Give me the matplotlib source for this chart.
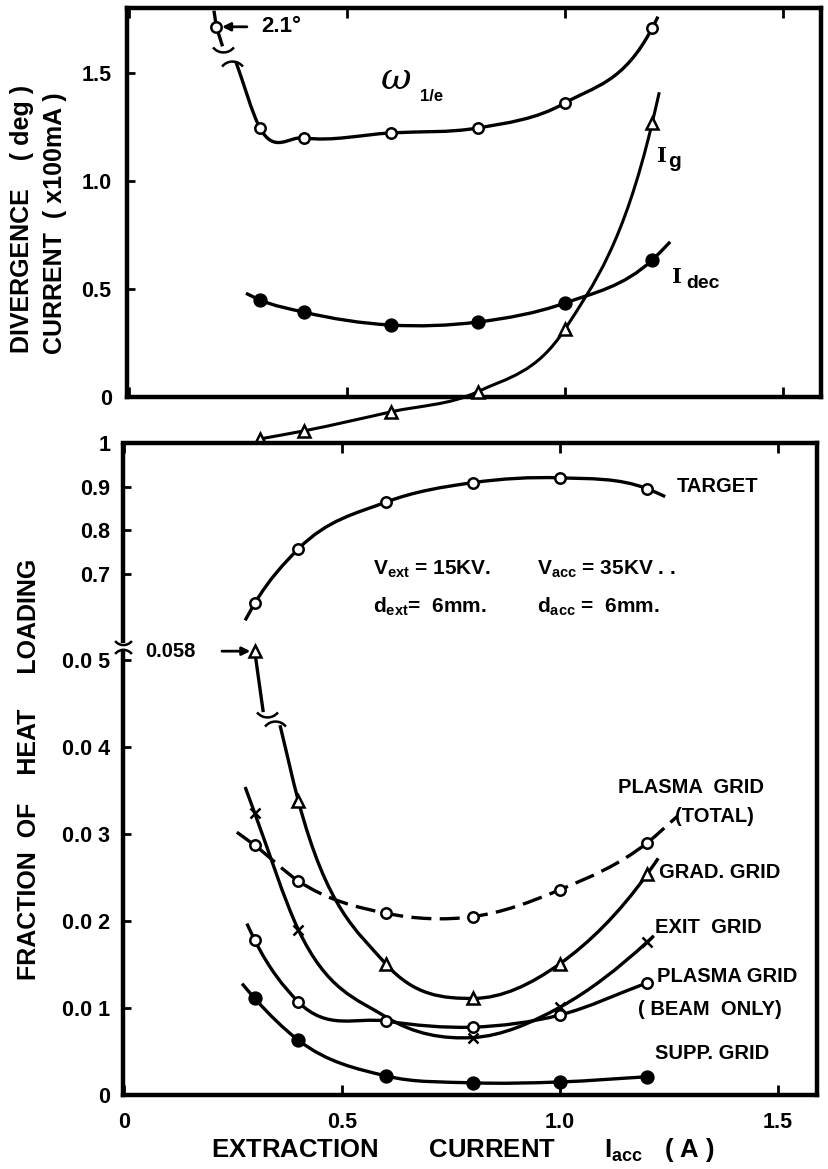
import numpy as np
import matplotlib.pyplot as plt
from matplotlib.path import Path
from matplotlib.patches import PathPatch

plt.rcParams['font.family'] = ['Liberation Sans', 'DejaVu Sans']
plt.rcParams['font.weight'] = 'bold'
plt.rcParams['mathtext.fontset'] = 'custom'
plt.rcParams['mathtext.rm'] = 'Liberation Sans:bold'
plt.rcParams['mathtext.bf'] = 'Liberation Sans:bold'
plt.rcParams['mathtext.it'] = 'Liberation Sans:bold'
plt.rcParams['mathtext.default'] = 'rm'

# ---------------- data ----------------
x_pts = [0.3, 0.4, 0.6, 0.8, 1.0, 1.2]

# top panel : divergence (deg) and currents (x100 mA)
omega_02 = 2.1            # value at Iacc = 0.2, drawn off-scale at the top
omega_02_drawn = 1.713
omega = [1.245, 1.199, 1.222, 1.245, 1.361, 1.708]
omega_start = (0.245, 1.55)
omega_end = (1.213, 1.76)
omega_lead = [(0.195, 1.78), (0.2, 1.713), (0.213, 1.63)]
omega_break = [(0.216, 1.606), (0.236, 1.546)]

i_dec = [0.449, 0.393, 0.333, 0.347, 0.435, 0.634]
i_dec_start = (0.268, 0.48)
i_dec_end = (1.241, 0.718)

i_g = [-0.194, -0.157, -0.069, 0.025, 0.315, 1.27]
i_g_end = (1.216, 1.41)

# bottom panel : fraction of heat loading
target = [0.632, 0.757, 0.864, 0.909, 0.920, 0.895]
target_start = (0.278, 0.593)
target_end = (1.241, 0.877)

pg_total = [0.0287, 0.0246, 0.0209, 0.0205, 0.0236, 0.0290]
pg_total_start = (0.259, 0.0302)
pg_total_end = (1.268, 0.0320)

grad = [0.058, 0.0338, 0.0151, 0.0111, 0.0151, 0.0254]
grad_lead_end = (0.319, 0.0442)
grad_start = (0.358, 0.0425)
grad_end = (1.225, 0.0272)
grad_break = [(0.328, 0.0437), (0.346, 0.0428)]

exit_g = [0.0324, 0.0190, 0.0090, 0.0066, 0.0101, 0.0176]
exit_start = (0.278, 0.0354)
exit_end = (1.215, 0.0183)

pg_beam = [0.0178, 0.0107, 0.0085, 0.0078, 0.0092, 0.0129]
pg_beam_start = (0.282, 0.0197)

supp = [0.0111, 0.0063, 0.0022, 0.0014, 0.0015, 0.0021]
supp_start = (0.271, 0.0128)

# broken axis of the lower panel
y_lo, y_hi = 0.051, 0.54
yb = [-1.0, 0.0, y_lo, y_hi, 1.0, 2.0]
yu = [-100.0, 0.0, 5.1, 5.19, 7.494, 12.503]

LW = 2.4
SPW = 3.2
FS = 14.5


def smooth(ax, xs, ys, **kw):
    x = np.asarray(xs, float)
    y = np.asarray(ys, float)
    h = np.diff(x)
    d = np.diff(y) / h
    m = np.empty_like(y)
    m[0], m[-1] = d[0], d[-1]
    m[1:-1] = (d[:-1] * h[1:] + d[1:] * h[:-1]) / (h[:-1] + h[1:])
    verts = [(x[0], y[0])]
    codes = [Path.MOVETO]
    for i in range(len(h)):
        verts += [(x[i] + h[i] / 3, y[i] + m[i] * h[i] / 3),
                  (x[i + 1] - h[i] / 3, y[i + 1] - m[i + 1] * h[i] / 3),
                  (x[i + 1], y[i + 1])]
        codes += [Path.CURVE4] * 3
    ax.add_patch(PathPatch(Path(verts, codes), fill=False, color='black',
                           lw=kw.pop('lw', LW), **kw))


def curve(ax, ys, start=None, end=None, **kw):
    xs = list(x_pts)
    yy = list(ys)
    if start:
        xs, yy = [start[0]] + xs, [start[1]] + yy
    if end:
        xs, yy = xs + [end[0]], yy + [end[1]]
    smooth(ax, xs, yy, **kw)


def marks(ax, xs, ys, kind, **kw):
    style = {'o': dict(marker='o', mfc='white', ms=7.5),
             'f': dict(marker='o', mfc='black', ms=8.5),
             '^': dict(marker='^', mfc='white', ms=8),
             'x': dict(marker='x', ms=7)}[kind]
    ax.plot(xs, ys, ls='none', mec='black', mew=1.8, zorder=4, **style, **kw)


cup = Path([(-1, 0.3), (-0.5, -0.35), (0.5, -0.35), (1, 0.3)],
           [Path.MOVETO, Path.CURVE4, Path.CURVE4, Path.CURVE4])
cap = Path([(-1, -0.3), (-0.5, 0.35), (0.5, 0.35), (1, -0.3)],
           [Path.MOVETO, Path.CURVE4, Path.CURVE4, Path.CURVE4])


def breakmarks(ax, pts, **kw):
    for (bx, by), mk in zip(pts, [cup, cap]):
        ax.plot([bx], [by], ls='none', marker=mk, ms=15, mfc='none',
                mec='black', mew=1.8, clip_on=False, **kw)


fig = plt.figure(figsize=(8.29, 11.69), dpi=100)
ax1 = fig.add_axes([127 / 829, 1 - 397 / 1169, 694 / 829, 389 / 1169])
ax2 = fig.add_axes([123 / 829, 1 - 1095 / 1169, 694 / 829, 652 / 1169])

# ---------------- top panel ----------------
ax1.set_xlim(-0.005, 1.587)
ax1.set_ylim(0, 1.80)
curve(ax1, omega, omega_start, omega_end)
ax1.plot(*zip(*omega_lead), color='black', lw=LW)
breakmarks(ax1, omega_break)
marks(ax1, [0.2] + x_pts, [omega_02_drawn] + omega, 'o')

curve(ax1, i_dec, i_dec_start, i_dec_end)
marks(ax1, x_pts, i_dec, 'f')

curve(ax1, i_g, None, i_g_end, lw=2.2, clip_on=False)
marks(ax1, x_pts, i_g, '^', clip_on=False)

ax1.annotate('', xy=(0.213, omega_02_drawn), xytext=(0.27, omega_02_drawn),
             arrowprops=dict(arrowstyle='-|>', color='black', lw=2,
                             mutation_scale=12, shrinkA=0, shrinkB=0))
ax1.text(0.303, omega_02_drawn, f'{omega_02}°', fontsize=16, va='center')
ax1.text(0.578, 1.47, 'ω', fontsize=27, style='italic', weight='normal',
         va='center', family='DejaVu Serif')
ax1.text(0.667, 1.39, '1/e', fontsize=12, va='center')
ax1.text(1.21, 1.115, 'I', fontsize=15, va='center', family='DejaVu Serif')
ax1.text(1.237, 1.09, 'g', fontsize=15, va='center')
ax1.text(1.245, 0.555, 'I', fontsize=15, va='center', family='DejaVu Serif')
ax1.text(1.277, 0.525, 'dec', fontsize=14, va='center')

ax1.set_xticks([0, 0.5, 1.0, 1.5])
ax1.set_yticks([0, 0.5, 1.0, 1.5])
ax1.set_yticklabels(['0', '0.5', '1.0', '1.5'])
ax1.tick_params(direction='in', length=6, width=2, top=True,
                labelbottom=False, labelsize=15.5, pad=11)
ax1.tick_params(axis='x', length=7)

# ---------------- bottom panel ----------------
fwd = lambda v: np.interp(v, yb, yu)
inv = lambda u: np.interp(u, yu, yb)
ax2.set_yscale('function', functions=(fwd, inv))
ax2.set_xlim(-0.002, 1.589)
ax2.set_ylim(0, 1.0)

curve(ax2, target, target_start, target_end)
marks(ax2, x_pts, target, 'o')

curve(ax2, pg_total, pg_total_start, pg_total_end, linestyle=(0, (6, 2.5)))
marks(ax2, x_pts, pg_total, 'o')

ax2.plot([x_pts[0], grad_lead_end[0]], [grad[0], grad_lead_end[1]],
         color='black', lw=LW)
breakmarks(ax2, grad_break)
smooth(ax2, [grad_start[0]] + x_pts[1:] + [grad_end[0]],
       [grad_start[1]] + grad[1:] + [grad_end[1]])
marks(ax2, x_pts, grad, '^', clip_on=False)

curve(ax2, exit_g, exit_start, exit_end)
marks(ax2, [x_pts[i] for i in (0, 1, 3, 4, 5)],
      [exit_g[i] for i in (0, 1, 3, 4, 5)], 'x')

curve(ax2, pg_beam, pg_beam_start)
marks(ax2, x_pts, pg_beam, 'o')

curve(ax2, supp, supp_start)
marks(ax2, x_pts, supp, 'f')

ax2.annotate('', xy=(0.29, grad[0]), xytext=(0.225, grad[0]),
             arrowprops=dict(arrowstyle='-|>', color='black', lw=2,
                             mutation_scale=12, shrinkA=0, shrinkB=0))
ax2.text(0.048, grad[0], '0.058', fontsize=FS, va='center')

ax2.text(1.268, 0.9, 'TARGET', fontsize=FS, va='center')
ax2.text(0.571, 0.711, r'V$_{ext}$ = 15KV.', fontsize=15, va='center')
ax2.text(0.947, 0.711, r'V$_{acc}$ = 35KV . .', fontsize=15, va='center')
ax2.text(0.571, 0.625, r'd$_{ext}$=  6mm.', fontsize=15, va='center')
ax2.text(0.947, 0.625, r'd$_{acc}$ =  6mm.', fontsize=15, va='center')
ax2.text(1.133, 0.0353, 'PLASMA  GRID', fontsize=FS, va='center')
ax2.text(1.264, 0.0320, '(TOTAL)', fontsize=FS, va='center')
ax2.text(1.227, 0.0256, 'GRAD. GRID', fontsize=FS, va='center')
ax2.text(1.218, 0.0192, 'EXIT  GRID', fontsize=FS, va='center')
ax2.text(1.222, 0.0136, 'PLASMA GRID', fontsize=FS, va='center')
ax2.text(1.179, 0.0098, '( BEAM  ONLY)', fontsize=FS, va='center')
ax2.text(1.218, 0.0048, 'SUPP. GRID', fontsize=FS, va='center')

ax2.set_xticks([0, 0.5, 1.0, 1.5])
ax2.set_xticklabels(['0', '0.5', '1.0', '1.5'])
ax2.set_yticks([0, 0.01, 0.02, 0.03, 0.04, 0.05, 0.7, 0.8, 0.9, 1.0])
ax2.set_yticklabels(['0', '0.0 1', '0.0 2', '0.0 3', '0.0 4', '0.0 5',
                     '0.7', '0.8', '0.9', '1'])
ax2.yaxis.set_minor_locator(plt.NullLocator())
ax2.tick_params(direction='in', length=6, width=2, top=True,
                labelsize=15.5, pad=9)
ax2.tick_params(axis='x', length=7, pad=12)

# broken left spine
ax2.spines['left'].set_bounds(0, y_lo)
ax2.plot([0, 0], [y_hi, 1.0], transform=ax2.get_yaxis_transform(),
         color='black', lw=SPW, clip_on=False, solid_capstyle='butt')
ax2.plot([0], [y_hi], transform=ax2.get_yaxis_transform(), ls='none',
         marker=cup, ms=12, mfc='none', mec='black', mew=1.8, clip_on=False)
ax2.plot([0], [y_lo], transform=ax2.get_yaxis_transform(), ls='none',
         marker=cap, ms=12, mfc='none', mec='black', mew=1.8, clip_on=False)

for ax in (ax1, ax2):
    for sp in ax.spines.values():
        sp.set_linewidth(SPW)

fig.text(22 / 829, 1 - 219 / 1169, 'DIVERGENCE    ( deg )', rotation=90,
         ha='center', va='center', fontsize=18)
fig.text(55 / 829, 1 - 223 / 1169, 'CURRENT  ( x100mA )', rotation=90,
         ha='center', va='center', fontsize=18)
fig.text(29 / 829, 1 - 769 / 1169, 'FRACTION  OF    HEAT     LOADING',
         rotation=90, ha='center', va='center', fontsize=18)
fig.text(463 / 829, 1 - 1150 / 1169,
         r'EXTRACTION       CURRENT       I$_{acc}$   ( A )',
         ha='center', va='center', fontsize=18.5)

fig.savefig('out.png', dpi=100)
